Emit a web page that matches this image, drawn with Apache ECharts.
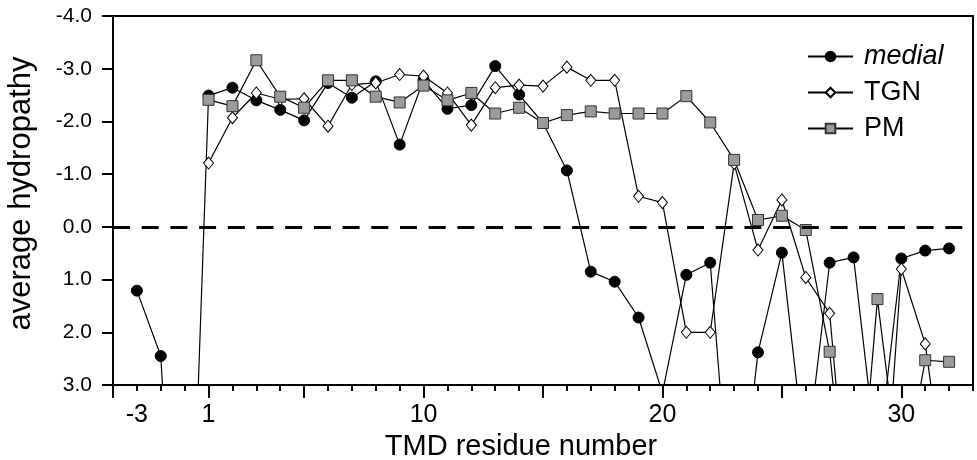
<!DOCTYPE html>
<html><head><meta charset="utf-8">
<script src="https://cdn.jsdelivr.net/npm/echarts@6/dist/echarts.min.js"></script>
<style>html,body{margin:0;padding:0;background:#fff}#c{width:977px;height:460px}</style>
</head><body><div id="c"></div>
<script>
// TMD residue numbers (the numbering skips 0)
const residues = [-3, -2, -1, 1, 2, 3, 4, 5, 6, 7, 8, 9, 10, 11, 12, 13, 14, 15, 16, 17, 18, 19, 20, 21, 22, 23, 24, 25, 26, 27, 28, 29, 30, 31, 32];
const medial = [1.21, 2.45, 10.3, -2.49, -2.64, -2.40, -2.22, -2.02, -2.73, -2.45, -2.76, -1.56, -2.79, -2.24, -2.31, -3.05, -2.51, -1.97, -1.07, 0.85, 1.04, 1.72, 3.15, 0.91, 0.68, 6.4, 2.38, 0.49, 4.5, 0.68, 0.58, 4.5, 0.60, 0.45, 0.41];
const tgn = [null, null, null, -1.21, -2.07, -2.54, -2.42, -2.43, -1.91, -2.70, -2.73, -2.89, -2.86, -2.54, -1.93, -2.64, -2.69, -2.67, -3.03, -2.78, -2.78, -0.58, -0.46, 2.00, 2.00, -1.20, 0.44, -0.51, 0.96, 1.64, 6.7, 7.2, 0.80, 2.22, 5.5];
const pm = [null, null, null, -2.41, -2.29, -3.16, -2.47, -2.26, -2.78, -2.78, -2.47, -2.36, -2.68, -2.40, -2.54, -2.15, -2.26, -1.97, -2.12, -2.19, -2.15, -2.15, -2.15, -2.48, -1.98, -1.27, -0.13, -0.21, 0.06, 2.37, 6.7, 1.37, 5.0, 2.53, 2.56];
const xTickLabels = [-3, 1, 10, 20, 30];
const xMajorTicks = [-4, 1, 5, 10, 15, 20, 25, 30];
const xRange = [-4, 33];
const yTicks = [-4, -3, -2, -1, 0, 1, 2, 3];
const refLine = 0;

// axis position: residue numbering has no 0
const pos = r => (r < 0 ? r + 1 : r);
const resOf = p => (p <= 0 ? p - 1 : p);
const toData = vals => residues.map((r, i) => [pos(r), vals[i]]);

const FONT = 'Liberation Sans, Arial, Helvetica, sans-serif';
const chart = echarts.init(document.getElementById('c'), null, {renderer: 'canvas'});
const allX = [];
for (let p = pos(xRange[0]); p <= pos(xRange[1]); p++) allX.push(p);

chart.setOption({
  animation: false,
  backgroundColor: '#fff',
  grid: {left: 113, right: 4, top: 16, bottom: 75, outerBoundsMode: 'none', containLabel: false,
    show: true, borderColor: '#000', borderWidth: 2, backgroundColor: 'transparent'},
  legend: {
    data: ['medial', 'TGN', 'PM'],
    orient: 'vertical', left: 802, top: 38,
    itemWidth: 45, itemHeight: 12, itemGap: 9,
    formatter: n => (n === 'medial' ? '{i|medial}' : n),
    textStyle: {fontFamily: FONT, fontSize: 27, color: '#000', padding: [0, 0, 0, 6],
      rich: {i: {fontStyle: 'italic', fontFamily: FONT, fontSize: 27, color: '#000'}}}
  },
  xAxis: [{
    type: 'value', min: pos(xRange[0]), max: pos(xRange[1]), interval: 1,
    axisLine: {show: true, onZero: false, lineStyle: {color: '#000', width: 2}},
    axisTick: {show: true, customValues: allX, length: 6, lineStyle: {color: '#000', width: 2}},
    axisLabel: {show: false}, splitLine: {show: false},
    name: 'TMD residue number', nameLocation: 'middle', nameGap: 47,
    nameTextStyle: {fontFamily: FONT, fontSize: 29, color: '#000', padding: [0, 44, 0, 0]}
  }, {
    type: 'value', min: pos(xRange[0]), max: pos(xRange[1]), position: 'bottom',
    axisLine: {show: false, onZero: false},
    axisTick: {show: true, customValues: xMajorTicks.map(pos), length: 13, lineStyle: {color: '#000', width: 2}},
    axisLabel: {show: true, customValues: xTickLabels.map(pos), formatter: v => String(resOf(v)), fontFamily: FONT, fontSize: 25, color: '#000', margin: 18},
    splitLine: {show: false}
  }],
  yAxis: {
    type: 'value', inverse: true, min: yTicks[0], max: yTicks[yTicks.length - 1], interval: 1,
    axisLine: {show: true, onZero: false, lineStyle: {color: '#000', width: 2}},
    axisTick: {show: true, length: 11, lineStyle: {color: '#000', width: 2}},
    axisLabel: {formatter: v => v.toFixed(1), fontFamily: FONT, fontSize: 21, color: '#000', margin: 21},
    splitLine: {show: false},
    name: 'average hydropathy', nameLocation: 'middle', nameGap: 76, nameRotate: 90,
    nameTextStyle: {fontFamily: FONT, fontSize: 31, color: '#000', padding: [0, 0, 0, 14]}
  },
  series: [{
    name: 'medial', type: 'line', data: toData(medial), xAxisIndex: 0,
    symbol: 'circle', symbolSize: 11, showAllSymbol: true,
    lineStyle: {color: '#000', width: 1.2},
    itemStyle: {color: '#000', borderColor: '#000', borderWidth: 1},
    markLine: {silent: true, symbol: 'none', label: {show: false},
      lineStyle: {color: '#000', width: 3, type: [17, 11.7]}, data: [{yAxis: refLine}]}
  }, {
    name: 'TGN', type: 'line', data: toData(tgn), xAxisIndex: 0,
    symbol: 'diamond', symbolSize: [10, 12], showAllSymbol: true,
    lineStyle: {color: '#000', width: 1.2},
    itemStyle: {color: '#fff', borderColor: '#000', borderWidth: 1}
  }, {
    name: 'PM', type: 'line', data: toData(pm), xAxisIndex: 0,
    symbol: 'rect', symbolSize: 11, showAllSymbol: true,
    lineStyle: {color: '#000', width: 1.2},
    itemStyle: {color: '#9a9a9a', borderColor: '#333', borderWidth: 1}
  }]
});
</script></body></html>
